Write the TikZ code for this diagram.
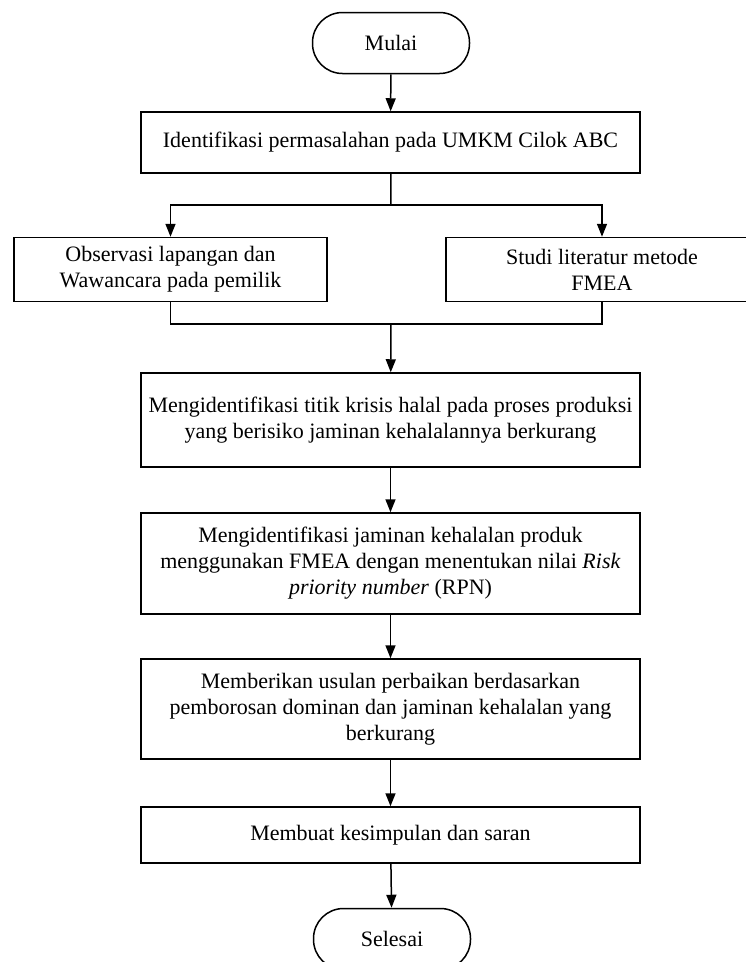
\documentclass[tikz,border=0pt]{standalone}
\usepackage{fontspec}
\setmainfont{Liberation Serif}
\usetikzlibrary{arrows.meta}

\tikzset{
  proses/.style={draw, line width=1.5pt, align=center, inner sep=2pt,
    minimum width=499pt, font=\fontsize{22}{26}\selectfont},
  terminal/.style={draw, line width=1.5pt, rounded corners=30pt,
    minimum width=157pt, minimum height=61pt, font=\fontsize{22}{26}\selectfont},
  panah/.style={line width=1.5pt, -{Triangle[length=13pt,width=10pt]}},
  garis/.style={line width=1.5pt}
}

\begin{document}
\begin{tikzpicture}[x=1pt,y=-1pt]
\useasboundingbox (0,0) rectangle (745,962);

\node[terminal] (mulai) at (391,43) {Mulai};
\node[proses, minimum height=61pt] (identifikasi) at (390.5,142.5)
  {Identifikasi permasalahan pada UMKM Cilok ABC};
\node[proses, minimum width=313pt, minimum height=64pt] (observasi) at (170.5,269.5)
  {Observasi lapangan dan\\Wawancara pada pemilik};
\node[proses, minimum width=312pt, minimum height=64pt] (studi) at (602,269.5)
  {Studi literatur metode\\FMEA};
\node[proses, minimum height=94pt] (krisis) at (390.5,420)
  {Mengidentifikasi titik krisis halal pada proses produksi\\
   yang berisiko jaminan kehalalannya berkurang};
\node[proses, minimum height=101pt] (fmea) at (390.5,563.5)
  {Mengidentifikasi jaminan kehalalan produk\\
   menggunakan FMEA dengan menentukan nilai \textit{Risk}\\
   \textit{priority number} (RPN)};
\node[proses, minimum height=100pt] (usulan) at (390.5,709)
  {Memberikan usulan perbaikan berdasarkan\\
   pemborosan dominan dan jaminan kehalalan yang\\
   berkurang};
\node[proses, minimum height=56pt] (simpulan) at (390.5,835)
  {Membuat kesimpulan dan saran};
\node[terminal] (selesai) at (392,939) {Selesai};

% percabangan
\coordinate (cabang) at (391,205);
\coordinate (gabung) at (391,324);

\draw[panah] (mulai) -- (identifikasi);
\draw[garis] (identifikasi) -- (cabang);
\draw[panah] (cabang) -| (observasi.north);
\draw[panah] (cabang) -| (studi.north);
\draw[garis] (observasi.south) |- (gabung);
\draw[garis] (studi.south) |- (gabung);
\draw[panah] (gabung) -- (krisis);
\draw[panah] (krisis) -- (fmea);
\draw[panah] (fmea) -- (usulan);
\draw[panah] (usulan) -- (simpulan);
\draw[panah] (simpulan) -- (selesai);
\end{tikzpicture}
\end{document}
